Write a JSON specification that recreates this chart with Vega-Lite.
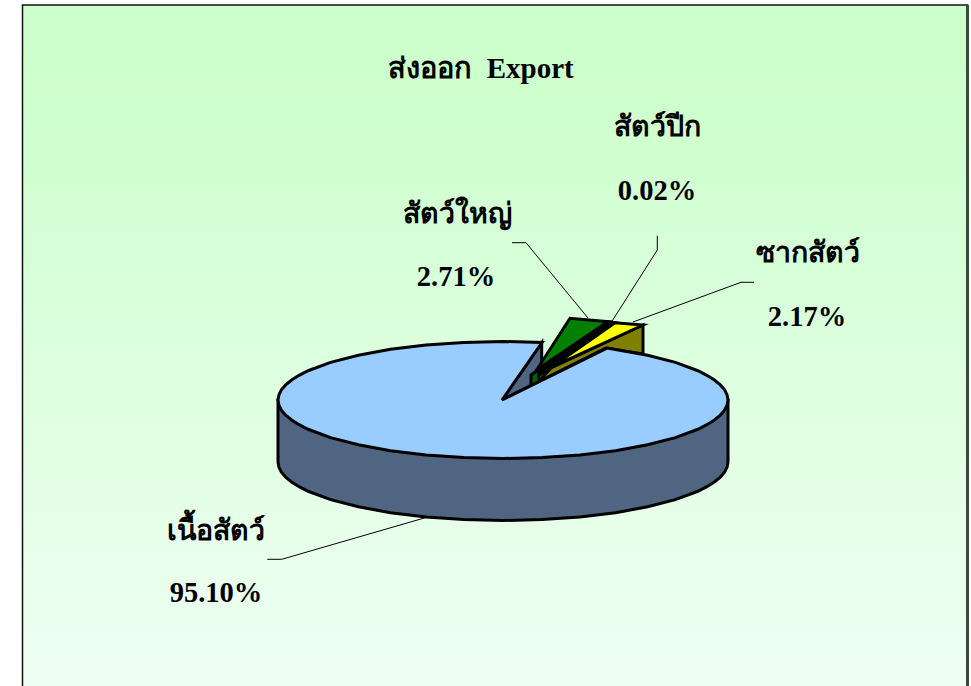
{"$schema":"https://vega.github.io/schema/vega-lite/v6.json","width":971,"height":686,"padding":0,"autosize":{"type":"none"},"background":"white","view":{"stroke":null},
"datasets":{
"panel":[{"left":22.5,"right":967.5,"top":5,"bottom":700}],
"outline":[
{"part":"side","tone":"wall","n":1,"x":278,"y":400},{"part":"side","tone":"wall","n":7,"x":278,"y":462},{"part":"side","tone":"wall","n":8,"x":278.9,"y":467.1},{"part":"side","tone":"wall","n":9,"x":281.4,"y":472.2},{"part":"side","tone":"wall","n":10,"x":285.7,"y":477.1},{"part":"side","tone":"wall","n":11,"x":291.6,"y":482},{"part":"side","tone":"wall","n":12,"x":299.1,"y":486.7},{"part":"side","tone":"wall","n":13,"x":308.1,"y":491.25},{"part":"side","tone":"wall","n":14,"x":330.6,"y":499.6},{"part":"side","tone":"wall","n":15,"x":358.4,"y":506.8},{"part":"side","tone":"wall","n":16,"x":390.5,"y":512.7},{"part":"side","tone":"wall","n":17,"x":426,"y":517},{"part":"side","tone":"wall","n":18,"x":463.9,"y":519.6},{"part":"side","tone":"wall","n":19,"x":503,"y":520.5},{"part":"side","tone":"wall","n":20,"x":542.1,"y":519.6},{"part":"side","tone":"wall","n":21,"x":580,"y":517},{"part":"side","tone":"wall","n":22,"x":615.5,"y":512.7},{"part":"side","tone":"wall","n":23,"x":647.6,"y":506.8},{"part":"side","tone":"wall","n":24,"x":675.4,"y":499.6},{"part":"side","tone":"wall","n":25,"x":697.9,"y":491.25},{"part":"side","tone":"wall","n":26,"x":706.9,"y":486.7},{"part":"side","tone":"wall","n":27,"x":714.4,"y":482},{"part":"side","tone":"wall","n":28,"x":720.3,"y":477.1},{"part":"side","tone":"wall","n":29,"x":724.6,"y":472.2},{"part":"side","tone":"wall","n":30,"x":727.1,"y":467.1},{"part":"side","tone":"wall","n":31,"x":728,"y":462},{"part":"side","tone":"wall","n":32,"x":728,"y":400},{"part":"side","tone":"wall","n":33,"x":503,"y":400},
{"part":"inner","tone":"wall","n":1,"x":502,"y":400},{"part":"inner","tone":"wall","n":2,"x":541.7,"y":342.7},{"part":"inner","tone":"wall","n":3,"x":541.7,"y":372},{"part":"inner","tone":"wall","n":4,"x":530,"y":386},
{"part":"oliveWall","tone":"olive","n":1,"x":551,"y":368},{"part":"oliveWall","tone":"olive","n":2,"x":643,"y":325},{"part":"oliveWall","tone":"olive","n":3,"x":643,"y":354},{"part":"oliveWall","tone":"olive","n":4,"x":606,"y":348},{"part":"oliveWall","tone":"olive","n":5,"x":538,"y":382},
{"part":"stub","tone":"darkGreen","n":1,"x":531,"y":375},{"part":"stub","tone":"darkGreen","n":2,"x":538,"y":370},{"part":"stub","tone":"darkGreen","n":3,"x":540,"y":384},{"part":"stub","tone":"darkGreen","n":4,"x":531,"y":388},
{"part":"green","tone":"green","n":1,"x":536.7,"y":370},{"part":"green","tone":"green","n":2,"x":570,"y":318.3},{"part":"green","tone":"green","n":3,"x":608,"y":321.7},
{"part":"poultry","tone":"black","n":1,"x":536.7,"y":370},{"part":"poultry","tone":"black","n":2,"x":608,"y":321.7},{"part":"poultry","tone":"black","n":3,"x":615,"y":322.7},{"part":"poultry","tone":"black","n":4,"x":551.7,"y":367},{"part":"poultry","tone":"black","n":5,"x":540,"y":375},
{"part":"yellow","tone":"yellow","n":1,"x":551.7,"y":367},{"part":"yellow","tone":"yellow","n":2,"x":615,"y":322.7},{"part":"yellow","tone":"yellow","n":3,"x":643,"y":325},
{"part":"top","tone":"top","n":1,"x":502,"y":400},{"part":"top","tone":"top","n":2,"x":542.1,"y":342.4},{"part":"top","tone":"top","n":3,"x":503,"y":341.5},{"part":"top","tone":"top","n":4,"x":463.9,"y":342.4},{"part":"top","tone":"top","n":5,"x":426,"y":345},{"part":"top","tone":"top","n":6,"x":390.5,"y":349.3},{"part":"top","tone":"top","n":7,"x":358.4,"y":355.2},{"part":"top","tone":"top","n":8,"x":330.6,"y":362.4},{"part":"top","tone":"top","n":9,"x":308.1,"y":370.75},{"part":"top","tone":"top","n":10,"x":299.1,"y":375.3},{"part":"top","tone":"top","n":11,"x":291.6,"y":380},{"part":"top","tone":"top","n":12,"x":285.7,"y":384.9},{"part":"top","tone":"top","n":13,"x":281.4,"y":389.8},{"part":"top","tone":"top","n":14,"x":278.9,"y":394.9},{"part":"top","tone":"top","n":15,"x":278,"y":400},{"part":"top","tone":"top","n":16,"x":278.9,"y":405.1},{"part":"top","tone":"top","n":17,"x":281.4,"y":410.2},{"part":"top","tone":"top","n":18,"x":285.7,"y":415.1},{"part":"top","tone":"top","n":19,"x":291.6,"y":420},{"part":"top","tone":"top","n":20,"x":299.1,"y":424.7},{"part":"top","tone":"top","n":21,"x":308.1,"y":429.25},{"part":"top","tone":"top","n":22,"x":330.6,"y":437.6},{"part":"top","tone":"top","n":23,"x":358.4,"y":444.8},{"part":"top","tone":"top","n":24,"x":390.5,"y":450.7},{"part":"top","tone":"top","n":25,"x":426,"y":455},{"part":"top","tone":"top","n":26,"x":463.9,"y":457.6},{"part":"top","tone":"top","n":27,"x":503,"y":458.5},{"part":"top","tone":"top","n":28,"x":542.1,"y":457.6},{"part":"top","tone":"top","n":29,"x":580,"y":455},{"part":"top","tone":"top","n":30,"x":615.5,"y":450.7},{"part":"top","tone":"top","n":31,"x":647.6,"y":444.8},{"part":"top","tone":"top","n":32,"x":675.4,"y":437.6},{"part":"top","tone":"top","n":33,"x":697.9,"y":429.25},{"part":"top","tone":"top","n":34,"x":706.9,"y":424.7},{"part":"top","tone":"top","n":35,"x":714.4,"y":420},{"part":"top","tone":"top","n":36,"x":720.3,"y":415.1},{"part":"top","tone":"top","n":37,"x":724.6,"y":410.2},{"part":"top","tone":"top","n":38,"x":727.1,"y":405.1},{"part":"top","tone":"top","n":39,"x":728,"y":400},{"part":"top","tone":"top","n":40,"x":727.1,"y":394.9},{"part":"top","tone":"top","n":41,"x":724.6,"y":389.8},{"part":"top","tone":"top","n":42,"x":720.3,"y":384.9},{"part":"top","tone":"top","n":43,"x":714.4,"y":380},{"part":"top","tone":"top","n":44,"x":706.9,"y":375.3},{"part":"top","tone":"top","n":45,"x":697.9,"y":370.75},{"part":"top","tone":"top","n":46,"x":675.4,"y":362.4},{"part":"top","tone":"top","n":47,"x":647.6,"y":355.2},{"part":"top","tone":"top","n":48,"x":607,"y":348.1}
],
"leaders":[
{"slice":"สัตว์ใหญ่","n":1,"x":512,"y":242.7},{"slice":"สัตว์ใหญ่","n":2,"x":526,"y":242.7},{"slice":"สัตว์ใหญ่","n":3,"x":588,"y":318},
{"slice":"สัตว์ปีก","n":1,"x":657.3,"y":235.7},{"slice":"สัตว์ปีก","n":2,"x":657.3,"y":250},{"slice":"สัตว์ปีก","n":3,"x":611.7,"y":321.7},
{"slice":"ซากสัตว์","n":1,"x":754,"y":282.3},{"slice":"ซากสัตว์","n":2,"x":741,"y":282.3},{"slice":"ซากสัตว์","n":3,"x":633,"y":322},
{"slice":"เนื้อสัตว์","n":1,"x":267.3,"y":559.3},{"slice":"เนื้อสัตว์","n":2,"x":281.7,"y":559.3},{"slice":"เนื้อสัตว์","n":3,"x":426.7,"y":517.3}
],
"labels":[
{"t":"สัตว์ปีก","x":657,"y":127},{"t":"0.02%","x":657,"y":191},
{"t":"สัตว์ใหญ่","x":457,"y":214},{"t":"2.71%","x":456,"y":277},
{"t":"ซากสัตว์","x":808,"y":253},{"t":"2.17%","x":807,"y":317},
{"t":"เนื้อสัตว์","x":216,"y":531},{"t":"95.10%","x":216,"y":593}
],
"heading":[{"t":"ส่งออก\u00a0\u00a0Export","x":481,"y":69}]},
"layer":[
{"data":{"name":"panel"},"mark":{"type":"rect","stroke":"#111111","strokeWidth":1.5,"color":{"gradient":"linear","x1":0,"y1":0,"x2":0,"y2":1,"stops":[{"offset":0,"color":"#CCFFCC"},{"offset":0.15,"color":"#CEFFCE"},{"offset":1,"color":"#F0FFF4"}]}},
"encoding":{"x":{"field":"left","type":"quantitative","scale":{"domain":[0,971],"nice":false,"zero":false},"axis":null},"x2":{"field":"right"},"y":{"field":"top","type":"quantitative","scale":{"domain":[686,0],"nice":false,"zero":false},"axis":null},"y2":{"field":"bottom"}}},
{"data":{"name":"panel"},"mark":{"type":"rule","stroke":"#3A4A3A","strokeWidth":3},"encoding":{"x":{"field":"right","type":"quantitative","axis":null},"y":{"field":"top","type":"quantitative","axis":null},"y2":{"field":"bottom"}}},
{"data":{"name":"outline"},"mark":{"type":"line","interpolate":"linear-closed","stroke":"black","strokeWidth":3,"strokeJoin":"miter","clip":false},
"encoding":{"x":{"field":"x","type":"quantitative","axis":null},"y":{"field":"y","type":"quantitative","axis":null},"order":{"field":"n","type":"quantitative"},"detail":{"field":"part"},"fill":{"field":"tone","type":"nominal","legend":null,"scale":{"domain":["wall","olive","darkGreen","green","black","yellow","top"],"range":["#4F6582","#808000","#006000","#008000","#000000","#FFFF00","#99CCFF"]}}}},
{"data":{"name":"leaders"},"mark":{"type":"line","stroke":"black","strokeWidth":1},"encoding":{"x":{"field":"x","type":"quantitative","axis":null},"y":{"field":"y","type":"quantitative","axis":null},"order":{"field":"n","type":"quantitative"},"detail":{"field":"slice"}}},
{"data":{"name":"labels"},"mark":{"type":"text","font":"Liberation Serif","fontWeight":"bold","fontSize":28.5,"color":"black","align":"center","baseline":"middle"},"encoding":{"x":{"field":"x","type":"quantitative","axis":null},"y":{"field":"y","type":"quantitative","axis":null},"text":{"field":"t"}}},
{"data":{"name":"heading"},"mark":{"type":"text","font":"Liberation Serif","fontWeight":"bold","fontSize":29,"color":"black","align":"center","baseline":"middle"},"encoding":{"x":{"field":"x","type":"quantitative","axis":null},"y":{"field":"y","type":"quantitative","axis":null},"text":{"field":"t"}}}
]}
